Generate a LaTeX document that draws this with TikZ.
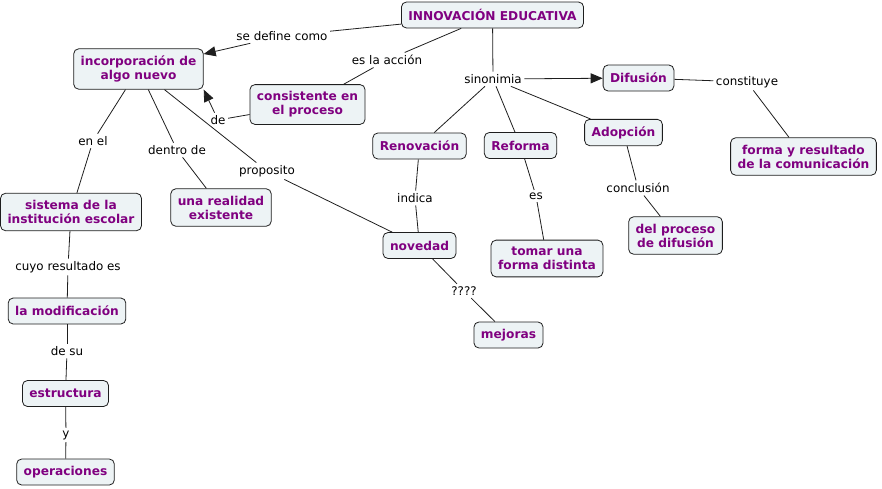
\documentclass[tikz,border=0pt]{standalone}
\usepackage{fontspec}
\setmainfont{DejaVu Sans}
\usepackage{tikz}
\usetikzlibrary{arrows.meta, positioning}
\usepackage{xcolor}
\definecolor{cmapfill}{RGB}{237,243,245}
\definecolor{cmappurple}{RGB}{128,0,128}
\definecolor{cmapline}{RGB}{30,30,30}

\begin{document}
\begin{tikzpicture}[x=1pt, y=-1pt,
    concept/.style = {rectangle, draw=cmapline, fill=cmapfill, line width=0.8pt, rounded corners=5pt, align=center, font=\bfseries\fontsize{12.2}{14}\selectfont, text=cmappurple, minimum height=26pt, inner xsep=7pt, inner ysep=7pt},
    linkword/.style = {align=center, font=\fontsize{11.9}{14}\selectfont, text=black, inner sep=2.5pt},
    link/.style = {draw=cmapline, line width=0.8pt},
    arrow/.style = {draw=cmapline, line width=0.8pt, -{Triangle[length=12pt, width=10pt]}}
]
\useasboundingbox (0,0) rectangle (882,488);

% Concepts, top group
\node (innov) [concept] at (492.5, 15) {INNOVACIÓN EDUCATIVA};
\node (incorp) [concept] at (138.5, 69) {incorporación de\\algo nuevo};
\node (consist) [concept] at (307.5, 104.5) {consistente en\\el proceso};
\node (difusion) [concept] at (638.5, 78) {Difusión};
\node (forma) [concept] at (803.5, 156.5) {forma y resultado\\de la comunicación};

% Concepts, synonyms row
\node (renov) [concept] at (419.5, 146) {Renovación};
\node (reforma) [concept] at (520.5, 145.5) {Reforma};
\node (adopcion) [concept] at (623.5, 132.5) {Adopción};
\node (tomar) [concept] at (547, 258.5) {tomar una\\forma distinta};
\node (delproc) [concept] at (675.5, 235.5) {del proceso\\de difusión};
\node (novedad) [concept] at (419.5, 245.5) {novedad};
\node (mejoras) [concept] at (508.5, 335) {mejoras};

% Concepts, left column
\node (sistema) [concept] at (71, 212) {sistema de la\\institución escolar};
\node (realidad) [concept] at (221, 207.5) {una realidad\\existente};
\node (modif) [concept] at (67, 311) {la modificación};
\node (estruct) [concept] at (65.5, 393.5) {estructura};
\node (operac) [concept] at (65.5, 472) {operaciones};

% Linking words
\node (sedef) [linkword] at (282, 36) {se define como};
\node (esacc) [linkword] at (387, 60) {es la acción};
\node (lblde) [linkword] at (218, 120) {de};
\node (enel) [linkword] at (93, 141) {en el};
\node (dentro) [linkword] at (177, 150) {dentro de};
\node (propos) [linkword] at (267, 171) {proposito};
\node (sinon) [linkword] at (493, 79) {sinonimia};
\node (constit) [linkword] at (747, 82) {constituye};
\node (indica) [linkword] at (415, 198) {indica};
\node (lbles) [linkword] at (536, 196) {es};
\node (concl) [linkword] at (638, 188) {conclusión};
\node (quest) [linkword] at (464, 291) {????};
\node (cuyo) [linkword] at (68, 267) {cuyo resultado es};
\node (desu) [linkword] at (67, 351) {de su};
\node (lbly) [linkword] at (66, 435) {y};

% From the root concept
\draw [link] (innov) -- (sedef);
\draw [arrow] (sedef) -- (incorp);
\draw [link] (innov) -- (esacc);
\draw [link] (esacc) -- (consist);
\draw [link] (consist) -- (lblde);
\draw [arrow] (lblde) -- (incorp.south east);
\draw [link] (innov) -- (sinon);

% Synonyms
\draw [arrow] (sinon) -- (difusion);
\draw [link] (sinon) -- (renov);
\draw [link] (sinon) -- (reforma);
\draw [link] (sinon) -- (adopcion);
\draw [link] (difusion) -- (constit);
\draw [link] (constit) -- (forma);
\draw [link] (renov) -- (indica);
\draw [link] (indica) -- (novedad);
\draw [link] (reforma) -- (lbles);
\draw [link] (lbles) -- (tomar);
\draw [link] (adopcion) -- (concl);
\draw [link] (concl) -- (delproc);
\draw [link] (novedad) -- (quest);
\draw [link] (quest) -- (mejoras);

% Below the definition
\draw [link] (incorp) -- (enel);
\draw [link] (enel) -- (sistema);
\draw [link] (incorp) -- (dentro);
\draw [link] (dentro) -- (realidad);
\draw [link] (incorp) -- (propos);
\draw [link] (propos) -- (novedad);

% Left column chain
\draw [link] (sistema) -- (cuyo);
\draw [link] (cuyo) -- (modif);
\draw [link] (modif) -- (desu);
\draw [link] (desu) -- (estruct);
\draw [link] (estruct) -- (lbly);
\draw [link] (lbly) -- (operac);

\end{tikzpicture}
\end{document}
